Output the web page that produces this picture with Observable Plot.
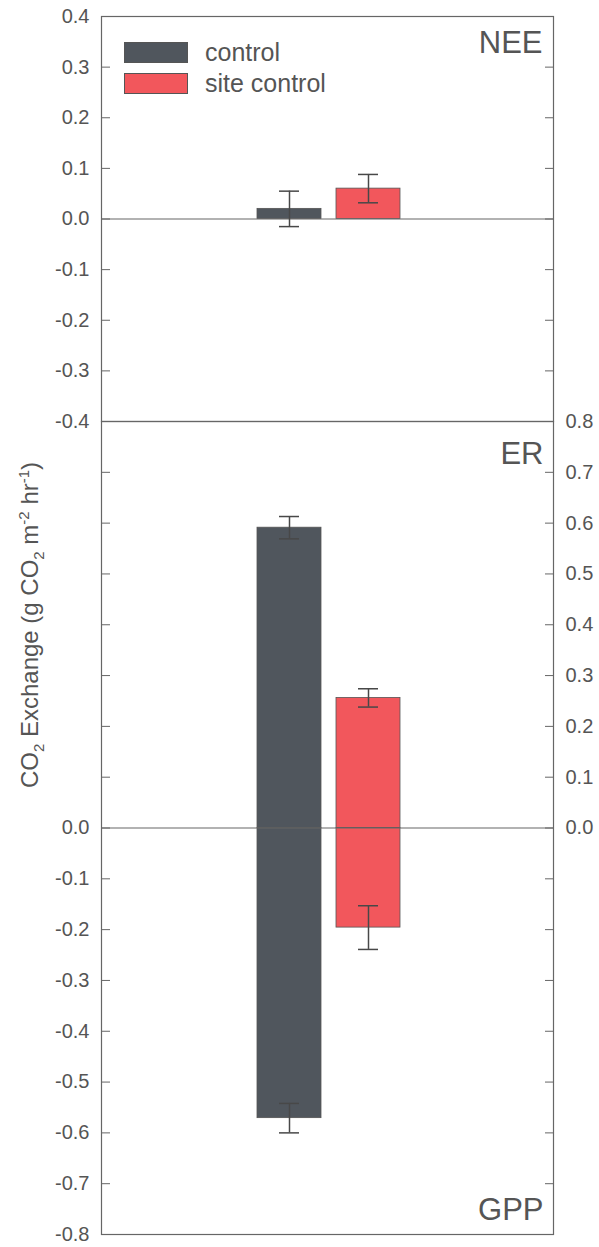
<!DOCTYPE html>
<html>
<head>
<meta charset="utf-8">
<script src="https://cdn.jsdelivr.net/npm/d3@7"></script>
<script src="https://cdn.jsdelivr.net/npm/@observablehq/plot@0.6"></script>
<style>
  html, body { margin: 0; padding: 0; background: #fff; }
  #wrap { position: relative; width: 599px; height: 1247px; font-family: "Liberation Sans", Arial, Helvetica, sans-serif; color: #555; }
  #wrap svg { position: absolute; left: 0; overflow: visible; }
  .sw { position: absolute; width: 64px; height: 21px; box-sizing: border-box; border: 1px solid #555; }
  .lt { position: absolute; font-size: 25px; line-height: 25px; color: #555; white-space: nowrap; }
  #ytitle { position: absolute; left: 31px; top: 625px; transform: translate(-50%, -50%) rotate(-90deg); font-size: 24px; white-space: nowrap; color: #555; }
  #ytitle sub, #ytitle sup { font-size: 15px; }
</style>
</head>
<body>
<div id="wrap"></div>
<script>
// ---- data ----
const groups = ["control", "site control"];
const colors = ["#50565d", "#f2575c"];

const neeValue = [0.020, 0.060];
const neeErr   = [0.035, 0.028];

const erValue  = [0.591, 0.256];
const erErr    = [0.022, 0.018];

const gppValue = [-0.571, -0.196];
const gppErr   = [0.029, 0.043];

const topTicks = [0.4, 0.3, 0.2, 0.1, 0.0, -0.1, -0.2, -0.3, -0.4];
const bottomTicks = [0.8, 0.7, 0.6, 0.5, 0.4, 0.3, 0.2, 0.1, 0.0, -0.1, -0.2, -0.3, -0.4, -0.5, -0.6, -0.7, -0.8];
const bottomLeftLabels = [0.0, -0.1, -0.2, -0.3, -0.4, -0.5, -0.6, -0.7, -0.8];
const bottomRightLabels = [0.8, 0.7, 0.6, 0.5, 0.4, 0.3, 0.2, 0.1, 0.0];

const rows = (vals, errs) => groups.map((g, i) => ({group: g, value: vals[i], err: errs[i]}));
const nee = rows(neeValue, neeErr);
const er = rows(erValue, erErr);
const gpp = rows(gppValue, gppErr);

const fmt = d => d.toFixed(1);
const axisColor = "#666";
const textColor = "#555";
const font = "'Liberation Sans', Arial, Helvetica, sans-serif";

const xScale = {domain: groups, range: [256, 400], paddingInner: 0.19, paddingOuter: 0, axis: null};
const colorScale = {domain: groups, range: colors};

function barMarks(data) {
  return [
    Plot.barY(data, {x: "group", y1: () => 0, y2: "value", fill: "group", stroke: "#555", strokeWidth: 0.8}),
  ];
}
function errMarks(data) {
  return [
    Plot.ruleX(data, {x: "group", y1: d => d.value - d.err, y2: d => d.value + d.err, stroke: "#484848", strokeWidth: 1.5}),
    Plot.tickY(data, {x: "group", y: d => d.value + d.err, insetLeft: 22, insetRight: 22, stroke: "#484848", strokeWidth: 1.5}),
    Plot.tickY(data, {x: "group", y: d => d.value - d.err, insetLeft: 22, insetRight: 22, stroke: "#484848", strokeWidth: 1.5})
  ];
}

const common = {
  width: 599,
  marginLeft: 101,
  marginRight: 46,
  style: {overflow: "visible", fontFamily: font, fontSize: "20px", color: textColor, background: "transparent"},
  x: xScale,
  color: colorScale
};

const topPlot = Plot.plot({
  ...common,
  height: 421,
  marginTop: 16,
  marginBottom: 0,
  y: {domain: [-0.4, 0.4], axis: null},
  marks: [
    ...barMarks(nee),
    Plot.ruleY([0], {stroke: axisColor, strokeWidth: 1.2}),
    ...errMarks(nee),
    Plot.axisY(topTicks, {anchor: "left", tickSize: -9, tickPadding: 21, tickFormat: fmt, stroke: axisColor, fill: textColor, label: null}),
    Plot.axisY(topTicks, {anchor: "right", tickSize: -9, tickFormat: () => "", stroke: axisColor, label: null}),
    Plot.text(["NEE"], {frameAnchor: "top-right", textAnchor: "end", lineAnchor: "top", dx: -11, dy: 14, fontSize: 31, fill: textColor}),
    Plot.frame({stroke: axisColor, strokeWidth: 1.2})
  ]
});

const bottomPlot = Plot.plot({
  ...common,
  height: 826,
  marginTop: 0,
  marginBottom: 13,
  y: {domain: [-0.8, 0.8], axis: null},
  marks: [
    ...barMarks(er),
    ...barMarks(gpp),
    Plot.ruleY([0], {stroke: axisColor, strokeWidth: 1.2}),
    ...errMarks(er),
    ...errMarks(gpp),
    Plot.axisY(bottomTicks, {anchor: "left", tickSize: -9, tickFormat: () => "", stroke: axisColor, label: null}),
    Plot.axisY(bottomLeftLabels, {anchor: "left", tickSize: 0, tickPadding: 12, tickFormat: fmt, fill: textColor, label: null}),
    Plot.axisY(bottomTicks, {anchor: "right", tickSize: -9, tickFormat: () => "", stroke: axisColor, label: null}),
    Plot.axisY(bottomRightLabels, {anchor: "right", tickSize: 0, tickPadding: 12, tickFormat: fmt, fill: textColor, label: null}),
    Plot.text(["ER"], {frameAnchor: "top-right", textAnchor: "end", lineAnchor: "top", dx: -10, dy: 20, fontSize: 31, fill: textColor}),
    Plot.text(["GPP"], {frameAnchor: "bottom-right", textAnchor: "end", lineAnchor: "bottom", dx: -10, dy: -15, fontSize: 31, fill: textColor}),
    Plot.frame({stroke: axisColor, strokeWidth: 1.2})
  ]
});

const wrap = document.getElementById("wrap");
topPlot.style.top = "0px";
bottomPlot.style.top = "421px";
wrap.appendChild(topPlot);
wrap.appendChild(bottomPlot);

// legend (inside the top panel)
groups.forEach((g, i) => {
  const sw = document.createElement("div");
  sw.className = "sw";
  sw.style.left = "124px";
  sw.style.top = (42 + i * 31) + "px";
  sw.style.background = colors[i];
  wrap.appendChild(sw);
  const t = document.createElement("div");
  t.className = "lt";
  t.style.left = "205px";
  t.style.top = (40 + i * 31) + "px";
  t.textContent = g;
  wrap.appendChild(t);
});

// y-axis title
const yt = document.createElement("div");
yt.id = "ytitle";
yt.innerHTML = "CO<sub>2</sub> Exchange (g CO<sub>2</sub> m<sup>-2</sup> hr<sup>-1</sup>)";
wrap.appendChild(yt);
</script>
</body>
</html>
